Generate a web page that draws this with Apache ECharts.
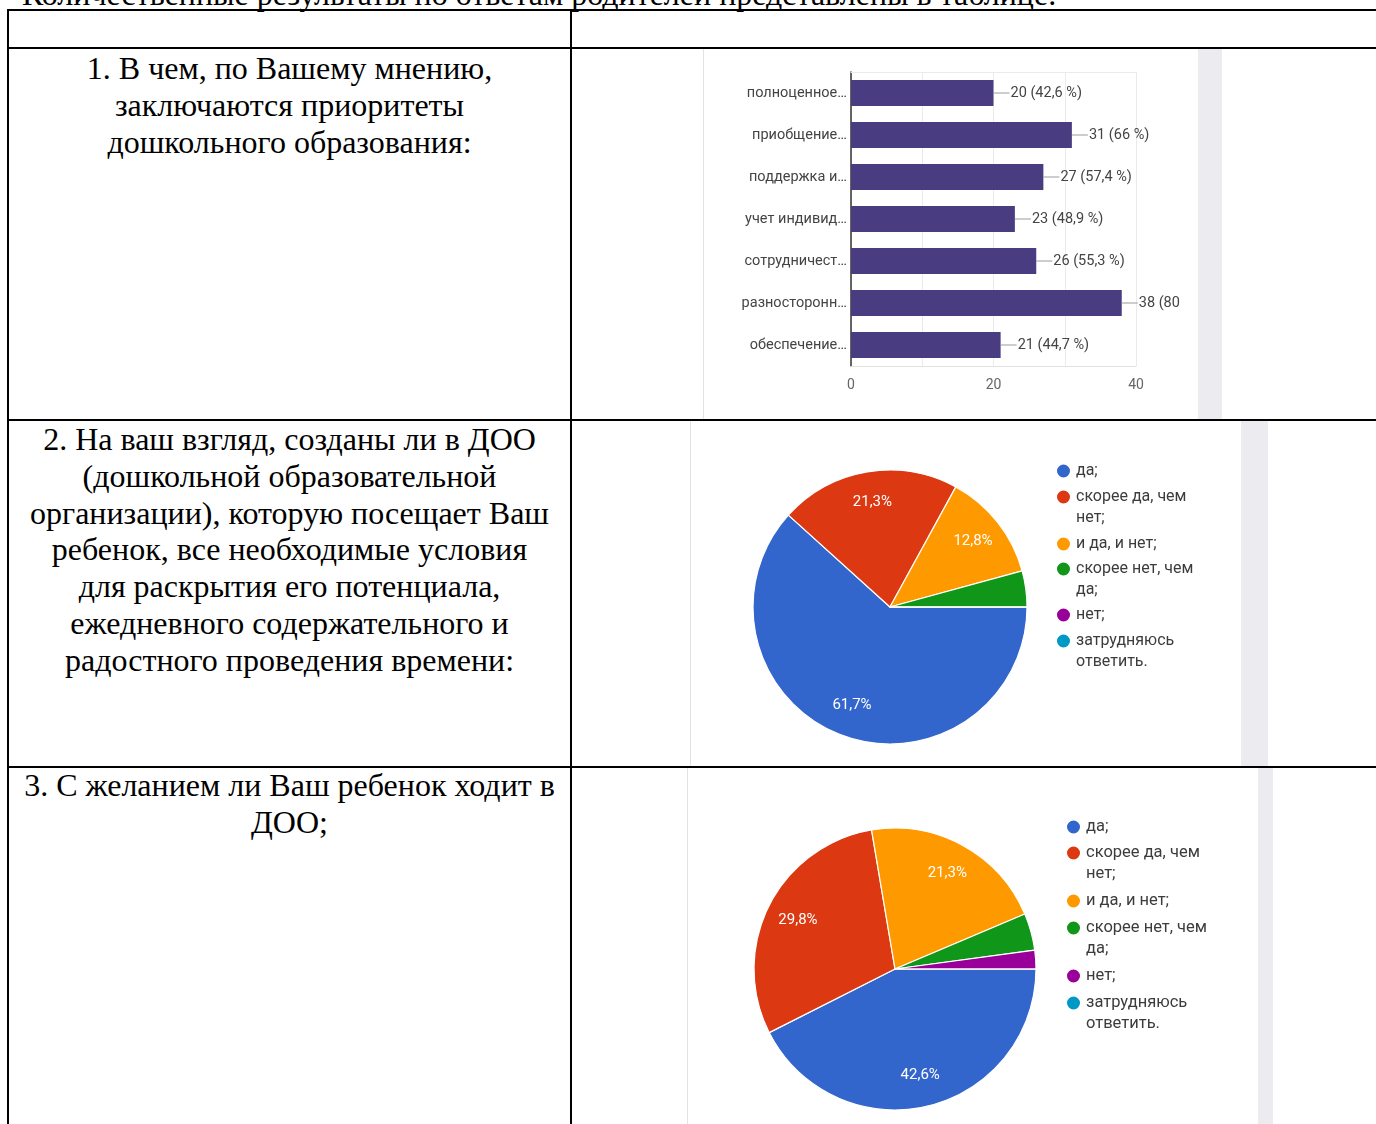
<!DOCTYPE html>
<html><head><meta charset="utf-8">
<script src="https://cdn.jsdelivr.net/npm/echarts@6/dist/echarts.min.js"></script>
<style>
html,body{margin:0;padding:0;background:#fff;}
#page{position:relative;width:1376px;height:1124px;overflow:hidden;font-family:"Liberation Serif","Times New Roman",serif;color:#000;}
.hl{position:absolute;height:2px;background:#000;}
.vl{position:absolute;width:2px;background:#000;}
.txt{position:absolute;font-size:32px;line-height:36.8px;white-space:nowrap;}
.cell{position:absolute;left:9px;width:561px;text-align:center;font-size:32px;line-height:36.8px;white-space:nowrap;}
.img{position:absolute;background:#fff;border-left:1px solid #e3e3e3;box-sizing:border-box;}
.strip{position:absolute;top:0;bottom:0;right:0;background:#ececf0;}
.ec{position:absolute;}
</style></head>
<body><div id="page">
<div class="txt" style="left:22px;top:-24px;">Количественные результаты по ответам родителей представлены в таблице.</div>
<div class="hl" style="left:7px;width:1369px;top:9px;"></div>
<div class="hl" style="left:7px;width:1369px;top:47px;"></div>
<div class="hl" style="left:7px;width:1369px;top:419px;"></div>
<div class="hl" style="left:7px;width:1369px;top:766px;"></div>
<div class="vl" style="left:7px;top:9px;height:1115px;"></div>
<div class="vl" style="left:570px;top:9px;height:1115px;"></div>

<div class="cell" style="top:50px;">1. В чем, по Вашему мнению,<br>заключаются приоритеты<br>дошкольного образования:</div>
<div class="cell" style="top:421px;">2. На ваш взгляд, созданы ли в ДОО<br>(дошкольной образовательной<br>организации), которую посещает Ваш<br>ребенок, все необходимые условия<br>для раскрытия его потенциала,<br>ежедневного содержательного и<br>радостного проведения времени:</div>
<div class="cell" style="top:767px;">3. С желанием ли Ваш ребенок ходит в<br>ДОО;</div>

<div class="img" style="left:703px;top:49px;width:519px;height:370px;"><div class="strip" style="width:24px;"></div></div>
<div class="img" style="left:690px;top:421px;width:578px;height:345px;"><div class="strip" style="width:27px;"></div></div>
<div class="img" style="left:687px;top:768px;width:586px;height:356px;"><div class="strip" style="width:15px;"></div></div>

<div id="c1" class="ec" style="left:704px;top:49px;width:494px;height:370px;"></div>
<div id="c2" class="ec" style="left:691px;top:422px;width:550px;height:344px;"></div>
<div id="c3" class="ec" style="left:688px;top:769px;width:570px;height:355px;"></div>
</div>
<script>
// ---- Data ----
const barCategories = ['полноценное…', 'приобщение…', 'поддержка и…', 'учет индивид…', 'сотрудничест…', 'разносторонн…', 'обеспечение…'];
const barValues = [20, 31, 27, 23, 26, 38, 21];
const barPercents = ['42,6 %', '66 %', '57,4 %', '48,9 %', '55,3 %', '80,9 %', '44,7 %'];
const barTicks = [0, 20, 40];

const answerNames = ['да;', 'скорее да, чем\nнет;', 'и да, и нет;', 'скорее нет, чем\nда;', 'нет;', 'затрудняюсь\nответить.'];
const q2Counts = [29, 10, 6, 2, 0, 0];
const q3Counts = [20, 14, 10, 2, 1, 0];

const pieColors = ['#3366cc', '#dc3912', '#ff9900', '#109618', '#990099', '#0099c6'];

// ---- Bar chart ----
const c1 = echarts.init(document.getElementById('c1'));
c1.setOption({
  animation: false,
  grid: {left: 147, top: 23, width: 285, height: 294},
  xAxis: [{
    type: 'value', min: 0, max: 40, interval: 10,
    axisLine: {show: true, lineStyle: {color: '#e2e2e2'}},
    axisTick: {show: false},
    splitLine: {show: true, lineStyle: {color: '#ebebeb'}},
    axisLabel: {color: '#666', fontSize: 14, fontFamily: 'Roboto', margin: 12,
      formatter: v => barTicks.includes(v) ? String(v) : ''}
  }, {
    type: 'value', position: 'top', min: 0, max: 40,
    axisLine: {show: true, lineStyle: {color: '#ebebeb'}},
    axisTick: {show: false}, axisLabel: {show: false}, splitLine: {show: false}
  }],
  yAxis: {
    type: 'category', inverse: true, data: barCategories,
    axisLine: {show: true, lineStyle: {color: '#333', width: 1.5}},
    axisTick: {show: false},
    axisLabel: {color: '#444', fontSize: 14.5, fontFamily: 'Roboto', margin: 4}
  },
  series: [{
    type: 'bar', barWidth: 26, silent: true,
    data: barValues.map((v, i) => i === 5 ? {value: v, label: {width: 63, overflow: 'truncate', ellipsis: ''}} : v),
    itemStyle: {color: '#4a3c80'},
    label: {show: true, position: 'right', distance: 0, color: '#444', fontSize: 14.5, fontFamily: 'Roboto',
      formatter: p => '{l|}{t|' + p.value + ' (' + barPercents[p.dataIndex] + ')}',
      rich: {
        l: {width: 16, height: 1, backgroundColor: '#9a9a9a'},
        t: {color: '#444', fontSize: 14.5, fontFamily: 'Roboto', padding: [0, 0, 0, 1]}
      }}
  }]
});

// ---- Pie charts ----
function pieSeries(counts, center, r, fs) {
  const total = counts.reduce((a, b) => a + b, 0);
  const data = answerNames.map((n, i) => ({name: n, value: counts[i]}));
  return [{
    type: 'pie', center: center, radius: [0, r], startAngle: 0, clockwise: true,
    data: data, silent: true, label: {show: false}, labelLine: {show: false},
    itemStyle: {borderColor: '#fff', borderWidth: 1.2}, emphasis: {disabled: true}
  }, {
    type: 'pie', center: center, radius: [r * 0.5, r], startAngle: 0, clockwise: true,
    data: data, silent: true, z: 5, emphasis: {disabled: true},
    itemStyle: {color: 'rgba(0,0,0,0)', borderWidth: 0},
    labelLine: {show: false},
    label: {show: true, position: 'inside', color: '#fff', fontSize: fs, fontFamily: 'Roboto',
      formatter: p => (p.value / total >= 0.05) ? (p.value / total * 100).toFixed(1).replace('.', ',') + '%' : ''}
  }];
}
function legendItems(iconYs, left, lh, fs) {
  return answerNames.map((n, i) => {
    const two = n.indexOf('\n') >= 0;
    return {
      data: [n], orient: 'vertical', left: left, top: iconYs[i] - (two ? 1.5 * lh : lh / 2),
      padding: 0, itemWidth: 15, itemHeight: 15, icon: 'circle', selectedMode: false,
      formatter: name => two ? '\n' + name : name,
      textStyle: {fontFamily: 'Roboto', fontSize: fs, color: '#3c3c3c', lineHeight: lh}
    };
  });
}
const c2 = echarts.init(document.getElementById('c2'));
c2.setOption({
  animation: false, color: pieColors,
  legend: legendItems([49, 75, 122, 147, 193, 219], 364, 21, 16),
  series: pieSeries(q2Counts, [199, 185], 137, 15)
});
const c3 = echarts.init(document.getElementById('c3'));
c3.setOption({
  animation: false, color: pieColors,
  legend: legendItems([58, 84, 132, 159, 207, 234], 377, 21, 16.5),
  series: pieSeries(q3Counts, [207, 200], 141, 15)
});
</script>
</body></html>
